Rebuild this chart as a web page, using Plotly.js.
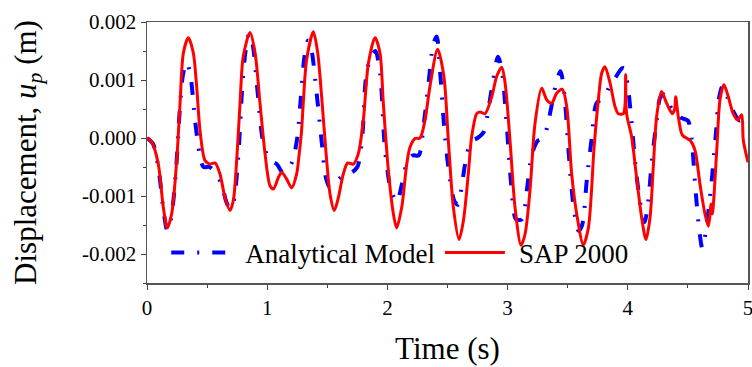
<!DOCTYPE html>
<html>
<head>
<meta charset="utf-8">
<script src="https://cdn.plot.ly/plotly-3.0.1.min.js"></script>
<style>html,body{margin:0;padding:0;background:#fff;}#chart{width:752px;height:367px;}</style>
</head>
<body>
<div id="chart"></div>
<script>
// SAP 2000 (red solid)
const tSap = [0,0.04,0.094,0.136,0.169,0.205,0.247,0.275,0.303,0.344,0.385,0.413,0.441,0.483,0.524,0.566,0.607,0.649,0.69,0.718,0.746,0.774,0.801,0.857,0.899,0.94,0.982,1.023,1.051,1.093,1.12,1.162,1.204,1.245,1.265,1.285,1.3,1.328,1.384,1.42,1.453,1.49,1.523,1.558,1.592,1.633,1.67,1.717,1.758,1.8,1.842,1.897,1.938,1.966,2.008,2.05,2.077,2.119,2.161,2.188,2.23,2.271,2.313,2.354,2.418,2.47,2.507,2.549,2.596,2.632,2.673,2.701,2.743,2.77,2.812,2.868,2.909,2.951,2.979,3.02,3.062,3.112,3.145,3.186,3.228,3.283,3.325,3.367,3.408,3.455,3.492,3.533,3.575,3.63,3.672,3.72,3.755,3.783,3.81,3.852,3.894,3.921,3.963,3.978,3.982,3.99,4.032,4.073,4.115,4.151,4.185,4.212,4.24,4.281,4.323,4.37,4.39,4.398,4.42,4.454,4.518,4.559,4.6,4.642,4.67,4.685,4.692,4.703,4.74,4.767,4.8,4.836,4.877,4.914,4.947,4.961,5.0];
const uSap = [0,-0.00007,-0.00045,-0.0012,-0.00155,-0.00131,-0.00039,0.0006,0.00147,0.00173,0.00147,0.00089,0.00013,-0.00039,-0.00045,-0.00043,-0.00062,-0.00103,-0.00125,-0.00108,-0.00039,0.0006,0.00141,0.00182,0.00147,0.0006,-0.00027,-0.00082,-0.00088,-0.00068,-0.00059,-0.00071,-0.00086,-0.00062,-0.0003,0.0001,0.0006,0.00135,0.00183,0.00147,0.00071,-0.00027,-0.00097,-0.00125,-0.00103,-0.00062,-0.00043,-0.00045,-0.00027,0.00031,0.00129,0.00173,0.00147,0.0006,-0.00056,-0.00131,-0.00155,-0.0012,-0.00045,-0.00016,-0.00001,0.0,0.00031,0.00089,0.00153,0.00106,-0.00004,-0.0012,-0.00175,-0.00143,-0.00062,0.00002,0.00042,0.00045,0.00042,0.00071,0.00106,0.00122,0.00095,-0.00004,-0.0012,-0.00185,-0.00166,-0.00091,0.00025,0.00086,0.00066,0.0006,0.00077,0.00084,0.00054,-0.00062,-0.00131,-0.00184,-0.00155,-0.00015,0.00066,0.00112,0.00123,0.00095,0.00054,0.00042,0.00042,0.0006,0.00109,0.00042,0.00002,-0.00068,-0.00137,-0.00175,-0.00137,-0.0005,0.00037,0.0008,0.0006,0.00042,0.0005,0.00071,0.00037,0.00005,-0.00004,-0.00021,-0.00079,-0.00131,-0.00152,-0.0013,-0.00114,-0.00131,-0.00021,0.00066,0.00092,0.00071,0.00042,0.00031,0.0004,-0.00004,-0.00042];

// Analytical Model (blue dash-dot)
const tAna = [0,0.05,0.1,0.14,0.17,0.2,0.24,0.27,0.3,0.33,0.36,0.4,0.44,0.47,0.52,0.57,0.62,0.66,0.69,0.72,0.76,0.79,0.82,0.85,0.88,0.92,0.96,1.0,1.04,1.08,1.13,1.17,1.21,1.25,1.28,1.31,1.34,1.37,1.41,1.45,1.49,1.52,1.56,1.6,1.65,1.7,1.75,1.79,1.82,1.86,1.9,1.94,1.98,2.03,2.08,2.12,2.16,2.21,2.26,2.3,2.34,2.38,2.41,2.44,2.48,2.52,2.56,2.59,2.62,2.66,2.7,2.75,2.8,2.84,2.88,2.92,2.95,2.99,3.03,3.07,3.12,3.16,3.2,3.25,3.3,3.33,3.37,3.41,3.44,3.47,3.51,3.55,3.59,3.62,3.66,3.7,3.74,3.8,3.85,3.9,3.95,3.97,4.0,4.03,4.07,4.11,4.14,4.17,4.2,4.24,4.27,4.3,4.34,4.38,4.44,4.5,4.53,4.56,4.59,4.62,4.65,4.69,4.73,4.76,4.79,4.83,4.88,4.93,4.97];
const uAna = [0,-0.0001,-0.0006,-0.0013,-0.0016,-0.0014,-0.0006,0.0004,0.0011,0.0013,0.0011,0.0003,-0.0003,-0.0005,-0.0005,-0.0006,-0.0008,-0.0011,-0.00122,-0.0011,-0.0003,0.0008,0.0015,0.0018,0.0016,0.0008,0.0,-0.0003,-0.0004,-0.00045,-0.0006,-0.00055,-0.0004,0.0,0.0007,0.0014,0.00168,0.0015,0.0008,0.0,-0.0007,-0.00085,-0.0008,-0.0007,-0.00065,-0.0006,-0.0005,0.0,0.001,0.0014,0.0015,0.0011,-0.0002,-0.0009,-0.0011,-0.0008,-0.00045,-0.0003,-0.0003,0.0002,0.0009,0.0016,0.00175,0.0011,0.0,-0.0007,-0.0011,-0.00115,-0.0008,-0.0003,-0.00005,0.0,0.0001,0.0005,0.001,0.0014,0.0012,0.0003,-0.0008,-0.0014,-0.0014,-0.0009,-0.0003,-0.00005,0.0,0.0002,0.0006,0.001,0.00115,0.0008,-0.0003,-0.0012,-0.0016,-0.0015,-0.0007,0.0,0.0006,0.0007,0.0009,0.00105,0.0012,0.0012,0.0009,0.0003,-0.0006,-0.0012,-0.00145,-0.0011,-0.0004,0.0003,0.0007,0.00075,0.0006,0.00045,0.00035,0.0003,0.0,-0.0008,-0.0015,-0.0019,-0.0016,-0.0009,0.0,0.0007,0.0009,0.0007,0.00045,0.0003,0.0004];

const seriesNames = ["Analytical Model", "SAP 2000"];
const yTickVals = [-0.002,-0.001,0.000,0.001,0.002];
const yTickText = ["-0.002","-0.001","0.000","0.001","0.002"];
const xTickVals = [0,1,2,3,4,5];
const xTickText = ["0","1","2","3","4","5"];

const serif = "Liberation Serif, Times New Roman, serif";
const pad = "\u00a0\u200a";

const traces = [
  {x: tAna, y: uAna, type: 'scatter', mode: 'lines', name: pad + seriesNames[0],
   line: {color: 'rgb(0,0,255)', width: 4, dash: '13px,13px,2px,13px', shape: 'spline', smoothing: 0.8}},
  {x: tSap, y: uSap, type: 'scatter', mode: 'lines', name: pad + seriesNames[1],
   line: {color: 'rgb(255,0,0)', width: 3, shape: 'spline', smoothing: 0.8}}
];

const layout = {
  width: 752, height: 367,
  margin: {l: 147, r: 4, t: 22, b: 84},
  paper_bgcolor: '#fff', plot_bgcolor: '#fff',
  showlegend: true,
  legend: {orientation: 'h', x: 0.032, xanchor: 'left', y: 0.115, yanchor: 'middle',
           bgcolor: 'rgba(0,0,0,0)', font: {family: serif, size: 27, color: '#000'},
           itemwidth: 60, tracegroupgap: 0},
  xaxis: {range: [0, 5], tickvals: xTickVals, ticktext: xTickText,
          ticks: 'outside', ticklen: 5, tickcolor: '#444', tickwidth: 1,
          ticklabeloverflow: 'allow',
          minor: {dtick: 0.5, ticks: 'outside', ticklen: 3, tickcolor: '#444'},
          showline: true, linecolor: '#555', linewidth: 1.5, mirror: true,
          showgrid: false, zeroline: false,
          tickfont: {family: serif, size: 21, color: '#000'},
          title: {text: 'Time (s)', font: {family: serif, size: 31, color: '#000'}, standoff: 18}},
  yaxis: {range: [-0.0025, 0.002], tickvals: yTickVals, ticktext: yTickText,
          ticks: 'outside', ticklen: 5, tickcolor: '#444', tickwidth: 1,
          minor: {tickvals: [-0.0025,-0.0015,-0.0005,0.0005,0.0015], ticks: 'outside', ticklen: 3, tickcolor: '#444'},
          showline: true, linecolor: '#555', linewidth: 1.5, mirror: true,
          showgrid: false, zeroline: false,
          tickfont: {family: serif, size: 21, color: '#000'},
          title: {text: 'Displacement, <i>u</i><sub><i>p</i></sub> (m)', font: {family: serif, size: 31, color: '#000'}, standoff: 36}}
};

Plotly.newPlot('chart', traces, layout, {staticPlot: true, displayModeBar: false});
</script>
</body>
</html>
